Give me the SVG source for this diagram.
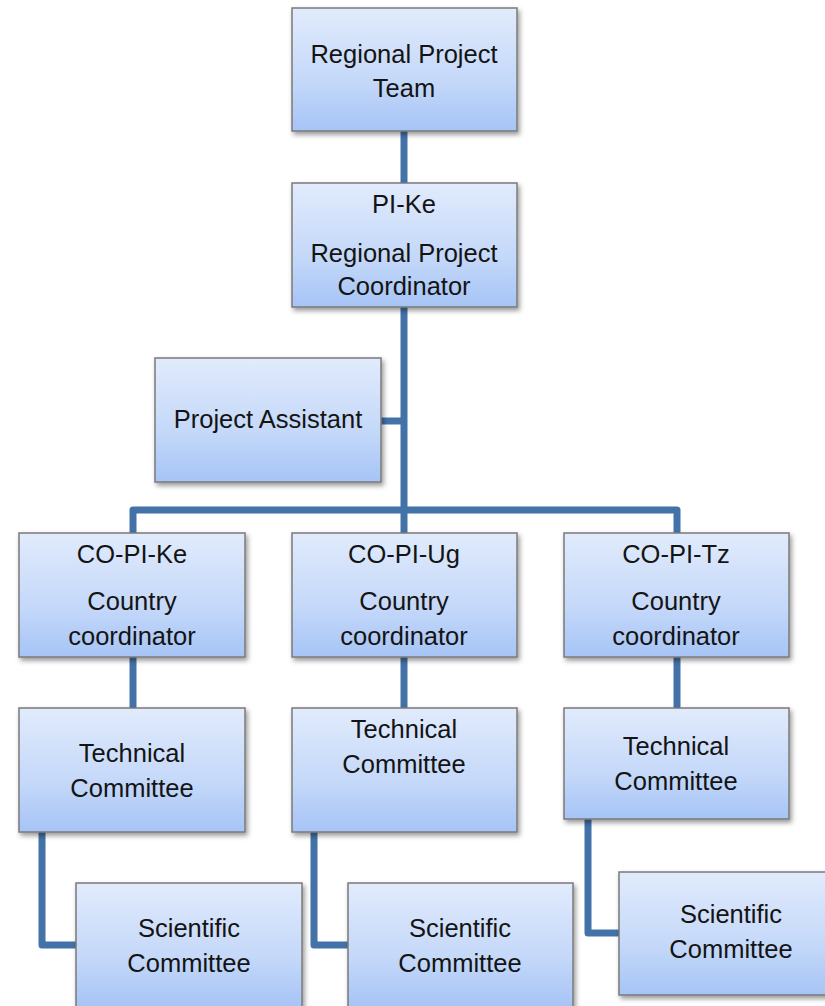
<svg xmlns="http://www.w3.org/2000/svg" width="825" height="1006" viewBox="0 0 825 1006">
<defs>
<linearGradient id="g" x1="0" y1="0" x2="0" y2="1">
<stop offset="0" stop-color="#e1ebfc"/>
<stop offset="0.6" stop-color="#c4d8f9"/>
<stop offset="1" stop-color="#a6c4f6"/>
</linearGradient>
<filter id="sh" x="-10%" y="-10%" width="125%" height="130%">
<feDropShadow dx="2" dy="3" stdDeviation="2.5" flood-color="#000" flood-opacity="0.4"/>
</filter>
</defs>
<style>
.box{fill:url(#g);stroke:#7a7a7a;stroke-width:1.5;filter:url(#sh)}
.t{font-family:"Liberation Sans",Arial,sans-serif;font-size:25.5px;fill:#141414;text-anchor:middle}
.c{fill:none;stroke:#4272a8;stroke-width:7;stroke-linejoin:round}
</style>
<rect width="825" height="1006" fill="#fff"/>
<g id="connectors">
<path class="c" d="M404,131 V183"/>
<path class="c" d="M404,307 V510"/>
<path class="c" d="M381,421 H404"/>
<path class="c" d="M133,533 V510 H677 V533"/>
<path class="c" d="M404,510 V533"/>
<path class="c" d="M133,657 V708"/>
<path class="c" d="M404,657 V708"/>
<path class="c" d="M677,657 V708"/>
<path class="c" d="M42,832 V945 H76"/>
<path class="c" d="M314,832 V945 H348"/>
<path class="c" d="M588,819 V933 H619"/>
</g>
<g id="regional-team">
<rect class="box" x="292" y="8" width="225" height="123"/>
<text class="t" x="404" y="63">Regional Project</text>
<text class="t" x="404" y="97">Team</text>
</g>
<g id="pi-ke">
<rect class="box" x="292" y="183" width="225" height="124"/>
<text class="t" x="404" y="213">PI-Ke</text>
<text class="t" x="404" y="262">Regional Project</text>
<text class="t" x="404" y="295">Coordinator</text>
</g>
<g id="project-assistant">
<rect class="box" x="155" y="358" width="226" height="124"/>
<text class="t" x="268" y="428">Project Assistant</text>
</g>
<g id="co-pi-ke">
<rect class="box" x="19" y="533" width="226" height="124"/>
<text class="t" x="132" y="563">CO-PI-Ke</text>
<text class="t" x="132" y="610">Country</text>
<text class="t" x="132" y="645">coordinator</text>
</g>
<g id="co-pi-ug">
<rect class="box" x="292" y="533" width="225" height="124"/>
<text class="t" x="404" y="563">CO-PI-Ug</text>
<text class="t" x="404" y="610">Country</text>
<text class="t" x="404" y="645">coordinator</text>
</g>
<g id="co-pi-tz">
<rect class="box" x="564" y="533" width="225" height="124"/>
<text class="t" x="676" y="563">CO-PI-Tz</text>
<text class="t" x="676" y="610">Country</text>
<text class="t" x="676" y="645">coordinator</text>
</g>
<g id="tech-ke">
<rect class="box" x="19" y="708" width="226" height="124"/>
<text class="t" x="132" y="762">Technical</text>
<text class="t" x="132" y="797">Committee</text>
</g>
<g id="tech-ug">
<rect class="box" x="292" y="708" width="225" height="124"/>
<text class="t" x="404" y="738">Technical</text>
<text class="t" x="404" y="773">Committee</text>
</g>
<g id="tech-tz">
<rect class="box" x="564" y="708" width="225" height="111"/>
<text class="t" x="676" y="755">Technical</text>
<text class="t" x="676" y="790">Committee</text>
</g>
<g id="sci-ke">
<rect class="box" x="76" y="883" width="226" height="124"/>
<text class="t" x="189" y="937">Scientific</text>
<text class="t" x="189" y="972">Committee</text>
</g>
<g id="sci-ug">
<rect class="box" x="348" y="883" width="225" height="124"/>
<text class="t" x="460" y="937">Scientific</text>
<text class="t" x="460" y="972">Committee</text>
</g>
<g id="sci-tz">
<rect class="box" x="619" y="872" width="225" height="123"/>
<text class="t" x="731" y="923">Scientific</text>
<text class="t" x="731" y="958">Committee</text>
</g>
</svg>
